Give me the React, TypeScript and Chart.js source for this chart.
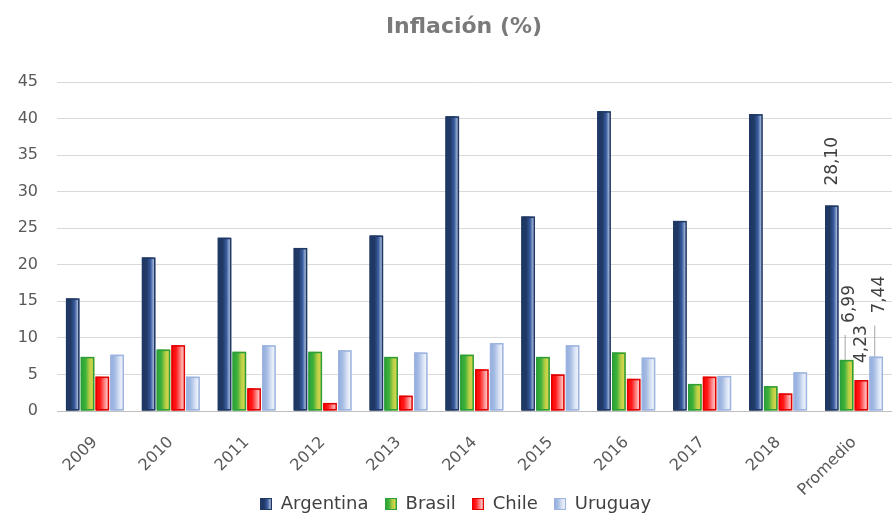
import React, { useEffect, useRef } from "react";
import { Chart, registerables } from "chart.js";

Chart.register(...registerables);

const categories = ["2009", "2010", "2011", "2012", "2013", "2014", "2015", "2016", "2017", "2018", "Promedio"];
const seriesNames = ["Argentina", "Brasil", "Chile", "Uruguay"];
const argentina = [15.4, 21.0, 23.7, 22.3, 24.0, 40.3, 26.6, 41.0, 26.0, 40.6, 28.1];
const brasil = [7.4, 8.4, 8.1, 8.1, 7.4, 7.7, 7.4, 8.0, 3.7, 3.4, 6.99];
const chile = [4.7, 9.0, 3.1, 1.1, 2.1, 5.7, 5.0, 4.4, 4.7, 2.4, 4.23];
const uruguay = [7.7, 4.7, 9.0, 8.3, 8.0, 9.3, 9.0, 7.3, 4.8, 5.3, 7.44];
const yTicks = [0, 5, 10, 15, 20, 25, 30, 35, 40, 45];
const titleText = "Inflación (%)";

const FONT = "DejaVu Sans";

const seriesStyle = [
  { border: "#1f3864", stops: ["#1f3864", "#1f3864", "#3a5da0", "#e4ecf8"] },
  { border: "#2e9e3a", stops: ["#26a336", "#3fb03a", "#b8cf45", "#e6da50"] },
  { border: "#e00000", stops: ["#ff0000", "#ff1a1a", "#ff8080", "#fff0f0"] },
  { border: "#9db3e0", stops: ["#8eaadb", "#a7bde4", "#d6e1f4", "#ffffff"] },
];

// label placement for the last category (px above bar top, x shift)
const labelPlacement = [
  { dx: 1, dy: 20, leader: false },
  { dx: 3, dy: 37, leader: true },
  { dx: 0, dy: 17, leader: false },
  { dx: 3, dy: 43, leader: true },
];

function makeGradient(ctx: CanvasRenderingContext2D, left: number, width: number, stops: string[]) {
  const g = ctx.createLinearGradient(left, 0, left + width, 0);
  g.addColorStop(0, stops[0]);
  g.addColorStop(0.35, stops[1]);
  g.addColorStop(0.65, stops[2]);
  g.addColorStop(1, stops[3]);
  return g;
}

function legendSwatch(i: number) {
  const c = document.createElement("canvas");
  const s = 12;
  c.width = s;
  c.height = s;
  const ctx = c.getContext("2d")!;
  ctx.fillStyle = makeGradient(ctx, 0, s, seriesStyle[i].stops);
  ctx.fillRect(0, 0, s, s);
  ctx.strokeStyle = seriesStyle[i].border;
  ctx.lineWidth = 1;
  ctx.strokeRect(0.5, 0.5, s - 1, s - 1);
  return c;
}

const gradientBars = {
  id: "gradientBars",
  afterDatasetsDraw(chart: any) {
    const ctx = chart.ctx;
    chart.data.datasets.forEach((ds: any, di: number) => {
      const meta = chart.getDatasetMeta(di);
      const st = seriesStyle[di];
      meta.data.forEach((bar: any) => {
        const { x, y, base, width } = bar.getProps(["x", "y", "base", "width"], true);
        const left = x - width / 2;
        ctx.save();
        ctx.fillStyle = makeGradient(ctx, left, width, st.stops);
        ctx.fillRect(left, y, width, base - y);
        ctx.strokeStyle = st.border;
        ctx.lineWidth = 1.5;
        ctx.strokeRect(left + 0.75, y + 0.75, width - 1.5, base - y - 1.5);
        ctx.restore();
      });
    });
  },
};

const promedioLabels = {
  id: "promedioLabels",
  afterDraw(chart: any) {
    const ctx = chart.ctx;
    const last = categories.length - 1;
    chart.data.datasets.forEach((ds: any, di: number) => {
      const bar = chart.getDatasetMeta(di).data[last];
      const { x, y } = bar.getProps(["x", "y"], true);
      const p = labelPlacement[di];
      const text = ds.data[last].toFixed(2).replace(".", ",");
      ctx.save();
      if (p.leader) {
        ctx.strokeStyle = "#a6a6a6";
        ctx.lineWidth = 1;
        ctx.beginPath();
        ctx.moveTo(x - 1.5, y - p.dy + 12);
        ctx.lineTo(x - 1.5, y);
        ctx.stroke();
      }
      ctx.translate(x + p.dx, y - p.dy);
      ctx.rotate(-Math.PI / 2);
      ctx.font = `17px "${FONT}"`;
      ctx.fillStyle = "#404040";
      ctx.textAlign = "left";
      ctx.textBaseline = "middle";
      ctx.fillText(text, 0, 0);
      ctx.restore();
    });
  },
};

const customTitle = {
  id: "customTitle",
  afterDraw(chart: any) {
    const ctx = chart.ctx;
    ctx.save();
    ctx.font = `bold 22px "${FONT}"`;
    ctx.fillStyle = "#7a7a7a";
    ctx.textAlign = "center";
    ctx.textBaseline = "middle";
    ctx.fillText(titleText, chart.width / 2 + 18, 27);
    ctx.restore();
  },
};

export default function App() {
  const ref = useRef<HTMLCanvasElement>(null);
  useEffect(() => {
    document.body.style.margin = "0";
    const values = [argentina, brasil, chile, uruguay];
    const swatches = seriesNames.map((_, i) => legendSwatch(i));
    const chart = new Chart(ref.current!, {
      type: "bar",
      data: {
        labels: categories,
        datasets: seriesNames.map((n, i) => ({
          label: n,
          data: values[i],
          backgroundColor: seriesStyle[i].stops[1],
          borderColor: seriesStyle[i].border,
          borderWidth: 1,
          categoryPercentage: 0.78,
          barPercentage: 0.92,
        })),
      },
      options: {
        animation: false,
        responsive: false,
        maintainAspectRatio: false,
        layout: { padding: { left: 8, right: -11, top: 82, bottom: -10 } },
        plugins: {
          title: { display: false },
          legend: {
            position: "bottom",
            labels: {
              usePointStyle: true,
              boxWidth: 12,
              boxHeight: 12,
              color: "#404040",
              font: { family: FONT, size: 18 },
              padding: 16,
              generateLabels: (ch: any) => {
                const items = Chart.defaults.plugins.legend.labels.generateLabels(ch);
                return items.map((it: any, i: number) => ({ ...it, pointStyle: swatches[i] }));
              },
            },
          },
          tooltip: { enabled: false },
        },
        scales: {
          x: {
            grid: { display: false },
            border: { color: "#bfbfbf" },
            ticks: {
              color: "#595959",
              font: { family: FONT, size: 16 },
              maxRotation: 45,
              minRotation: 45,
              padding: 14,
            },
            afterFit: (axis: any) => {
              axis.height = 68;
              axis._computeLabelArea = () => undefined;
            },
          },
          y: {
            min: 0,
            max: 45,
            afterBuildTicks: (axis: any) => {
              axis.ticks = yTicks.map((v) => ({ value: v }));
            },
            afterFit: (axis: any) => {
              axis.width = 49;
            },
            grid: { color: "#d9d9d9", drawTicks: false },
            border: { display: false },
            ticks: {
              color: "#595959",
              font: { family: FONT, size: 16 },
              padding: 19,
            },
          },
        },
      },
      plugins: [gradientBars, promedioLabels, customTitle],
    });
    return () => chart.destroy();
  }, []);
  return (
    <div style={{ width: 892, height: 513, overflow: "hidden" }}>
      <canvas ref={ref} width={892} height={513} style={{ display: "block" }} />
    </div>
  );
}
